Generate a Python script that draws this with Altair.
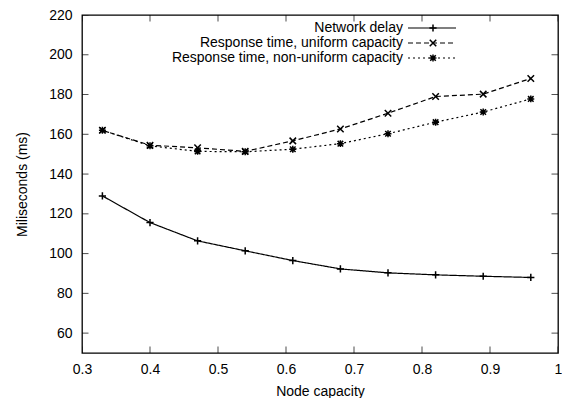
import altair as alt
import pandas as pd

# ---- data ----
node_capacity = [0.33, 0.40, 0.47, 0.54, 0.61, 0.68, 0.75, 0.82, 0.89, 0.96]
network_delay = [129.0, 115.6, 106.4, 101.4, 96.5, 92.3, 90.3, 89.3, 88.6, 88.0]
resp_uniform = [162.0, 154.5, 153.2, 151.4, 156.7, 162.7, 170.6, 179.0, 180.2, 188.1]
resp_nonuniform = [162.0, 154.2, 151.4, 151.2, 152.5, 155.3, 160.3, 166.1, 171.2, 177.8]

series_names = ["Network delay",
                "Response time, uniform capacity",
                "Response time, non-uniform capacity"]
x_ticks = [0.3, 0.4, 0.5, 0.6, 0.7, 0.8, 0.9, 1.0]
y_ticks = [60, 80, 100, 120, 140, 160, 180, 200, 220]

# ---- layout / style ----
W, H = 476, 338
FONT = "Liberation Sans"
FS = 14
LFS = 14
PLUS = "M-1,0L1,0M0,-1L0,1"
CROSS = "M-1,-1L1,1M-1,1L1,-1"
STAR = "M-1,0L1,0M0,-1L0,1M-0.8,-0.8L0.8,0.8M-0.8,0.8L0.8,-0.8"
styles = [
    dict(dash=[1, 0], shape=PLUS, size=52),
    dict(dash=[5, 3], shape=CROSS, size=42),
    dict(dash=[2, 3], shape=STAR, size=48),
]
series_values = [network_delay, resp_uniform, resp_nonuniform]

xs = alt.Scale(domain=[0.3, 1.0], nice=False, zero=False)
ys = alt.Scale(domain=[50, 220], nice=False, zero=False)

x_enc = alt.X("x:Q", scale=xs,
              axis=alt.Axis(values=x_ticks, format="~g", title="Node capacity",
                            ticks=False, domain=False, grid=False, labelFlush=False,
                            labelPadding=9, titlePadding=8))
y_enc = alt.Y("y:Q", scale=ys,
              axis=alt.Axis(values=y_ticks, format="d", title="Miliseconds (ms)",
                            ticks=False, domain=False, grid=False, labelFlush=False,
                            labelPadding=10, titlePadding=19))

layers = []
for name, vals, st in zip(series_names, series_values, styles):
    df = pd.DataFrame({"x": node_capacity, "y": vals})
    base = alt.Chart(df)
    layers.append(base.mark_line(color="black", strokeWidth=1.2,
                                 strokeDash=st["dash"]).encode(x=x_enc, y=y_enc))
    layers.append(base.mark_point(shape=st["shape"], size=st["size"], filled=False,
                                  color="black", strokeWidth=1.5, opacity=1)
                  .encode(x=x_enc, y=y_enc))

# inward mirrored ticks (clipped half of a centered tick)
xt = alt.Chart(pd.DataFrame({"x": x_ticks}))
yt = alt.Chart(pd.DataFrame({"y": y_ticks}))
for yp in (0, H):
    layers.append(xt.mark_tick(orient="vertical", size=13, thickness=1,
                               color="black", clip=True)
                  .encode(x=alt.X("x:Q", scale=xs), y=alt.value(yp)))
for xp in (0, W):
    layers.append(yt.mark_tick(orient="horizontal", size=13, thickness=1,
                               color="black", clip=True)
                  .encode(y=alt.Y("y:Q", scale=ys), x=alt.value(xp)))

# manual gnuplot-style legend (label left, sample right)
one = alt.Data(values=[{}])
leg_y = [13, 28, 43]
for name, st, yp in zip(series_names, styles, leg_y):
    layers.append(alt.Chart(one).mark_text(align="right", baseline="middle",
                                           font=FONT, fontSize=LFS, color="black")
                  .encode(x=alt.value(321), y=alt.value(yp), text=alt.value(name)))
    layers.append(alt.Chart(one).mark_rule(color="black", strokeWidth=1.2,
                                           strokeDash=st["dash"])
                  .encode(x=alt.value(326), x2=alt.value(374), y=alt.value(yp)))
    layers.append(alt.Chart(one).mark_point(shape=st["shape"], size=st["size"],
                                            filled=False, color="black",
                                            strokeWidth=1.5, opacity=1)
                  .encode(x=alt.value(351), y=alt.value(yp)))

chart = (alt.layer(*layers)
         .properties(width=W, height=H, background="white",
                     padding={"left": 82, "top": 15, "right": 4, "bottom": 45},
                     autosize=alt.AutoSizeParams(type="none"))
         .configure_view(stroke="black", strokeWidth=1.3)
         .configure_axis(labelFont=FONT, titleFont=FONT, labelFontSize=FS,
                         titleFontSize=FS, titleFontWeight="normal",
                         labelColor="black", titleColor="black"))

chart.save("out.html", embed_options={"renderer": "svg", "actions": False})
